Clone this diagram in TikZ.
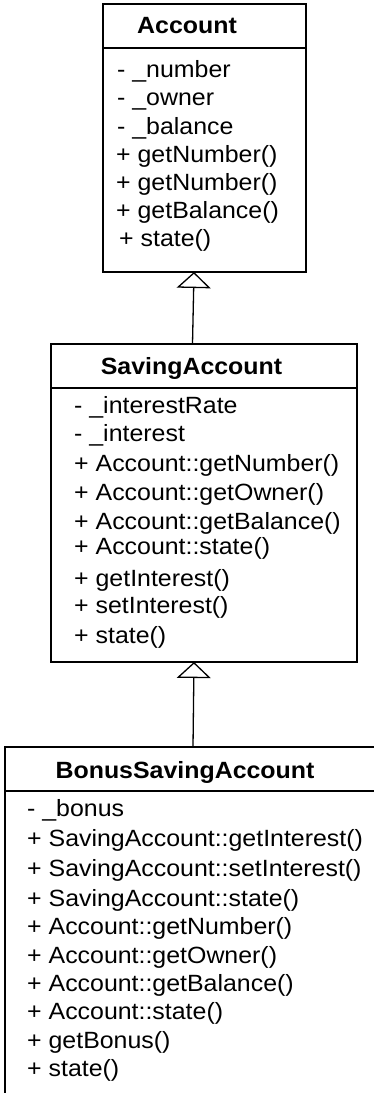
\documentclass[tikz,border=0pt]{standalone}
\usepackage{fontspec}
\setmainfont{Liberation Sans}[FakeStretch=1.06]
\usetikzlibrary{arrows.meta}
\begin{document}
\begin{tikzpicture}[x=1pt,y=-1pt,
  classbox/.style={draw=black, line width=1.3pt, inner sep=0pt, outer sep=0pt},
  classname/.style={font=\bfseries\fontsize{23.5}{28}\selectfont, inner sep=0pt, anchor=base},
  member/.style={font=\fontsize{23.5}{28}\selectfont, inner sep=0pt, anchor=base west},
  divider/.style={line width=1.3pt},
  inherits/.style={line width=1.3pt, -{Triangle[open, length=16pt, width=34pt, line width=1.3pt]}}]
\useasboundingbox (0,0) rectangle (374,1093);
\clip (0,0) rectangle (374,1093);
\fill[white] (0,0) rectangle (374,1093);

% ---- Account ----
\node[classbox, minimum width=203pt, minimum height=268pt] (acc) at (204.5,138) {};
\draw[divider] (acc.west |- 0,48) -- (acc.east |- 0,48);
\node[classname] (accname) at (187,33) {Account};
\node[member] (acc1) at (117,77)  {- \_number};
\node[member] (acc2) at (117,105) {- \_owner};
\node[member] (acc3) at (117,134) {- \_balance};
\node[member] (acc4) at (116,162) {+ getNumber()};
\node[member] (acc5) at (116,190) {+ getNumber()};
\node[member] (acc6) at (116,218) {+ getBalance()};
\node[member] (acc7) at (119,246) {+ state()};

% ---- SavingAccount ----
\node[classbox, minimum width=306pt, minimum height=318pt] (sav) at (204,503) {};
\draw[divider] (sav.west |- 0,388) -- (sav.east |- 0,388);
\node[classname] (savname) at (191.5,374) {SavingAccount};
\node[member] (sav1) at (74,413) {- \_interestRate};
\node[member] (sav2) at (74,441) {- \_interest};
\node[member] (sav3) at (74,471) {+ Account::getNumber()};
\node[member] (sav4) at (74,500) {+ Account::getOwner()};
\node[member] (sav5) at (74,529) {+ Account::getBalance()};
\node[member] (sav6) at (74,554) {+ Account::state()};
\node[member] (sav7) at (74,586) {+ getInterest()};
\node[member] (sav8) at (74,613) {+ setInterest()};
\node[member] (sav9) at (74,643) {+ state()};

% ---- BonusSavingAccount (runs past the right and bottom edges) ----
\node[classbox, minimum width=415pt, minimum height=383pt] (bon) at (212.5,938.5) {};
\draw[divider] (bon.west |- 0,791) -- (bon.east |- 0,791);
\node[classname] (bonname) at (185,778) {BonusSavingAccount};
\node[member] (bon1)  at (27,816)  {- \_bonus};
\node[member] (bon2)  at (27,846)  {+ SavingAccount::getInterest()};
\node[member] (bon3)  at (27,876)  {+ SavingAccount::setInterest()};
\node[member] (bon4)  at (27,906)  {+ SavingAccount::state()};
\node[member] (bon5)  at (27,934)  {+ Account::getNumber()};
\node[member] (bon6)  at (27,963)  {+ Account::getOwner()};
\node[member] (bon7)  at (27,991)  {+ Account::getBalance()};
\node[member] (bon8)  at (27,1019) {+ Account::state()};
\node[member] (bon9)  at (27,1048) {+ getBonus()};
\node[member] (bon10) at (27,1076) {+ state()};

% ---- generalisation arrows ----
\draw[inherits] ([xshift=-11.5pt]sav.north) -- ([xshift=-10.5pt]acc.south);
\draw[inherits] ([xshift=-19.5pt]bon.north) -- ([xshift=-10pt]sav.south);
\end{tikzpicture}
\end{document}
